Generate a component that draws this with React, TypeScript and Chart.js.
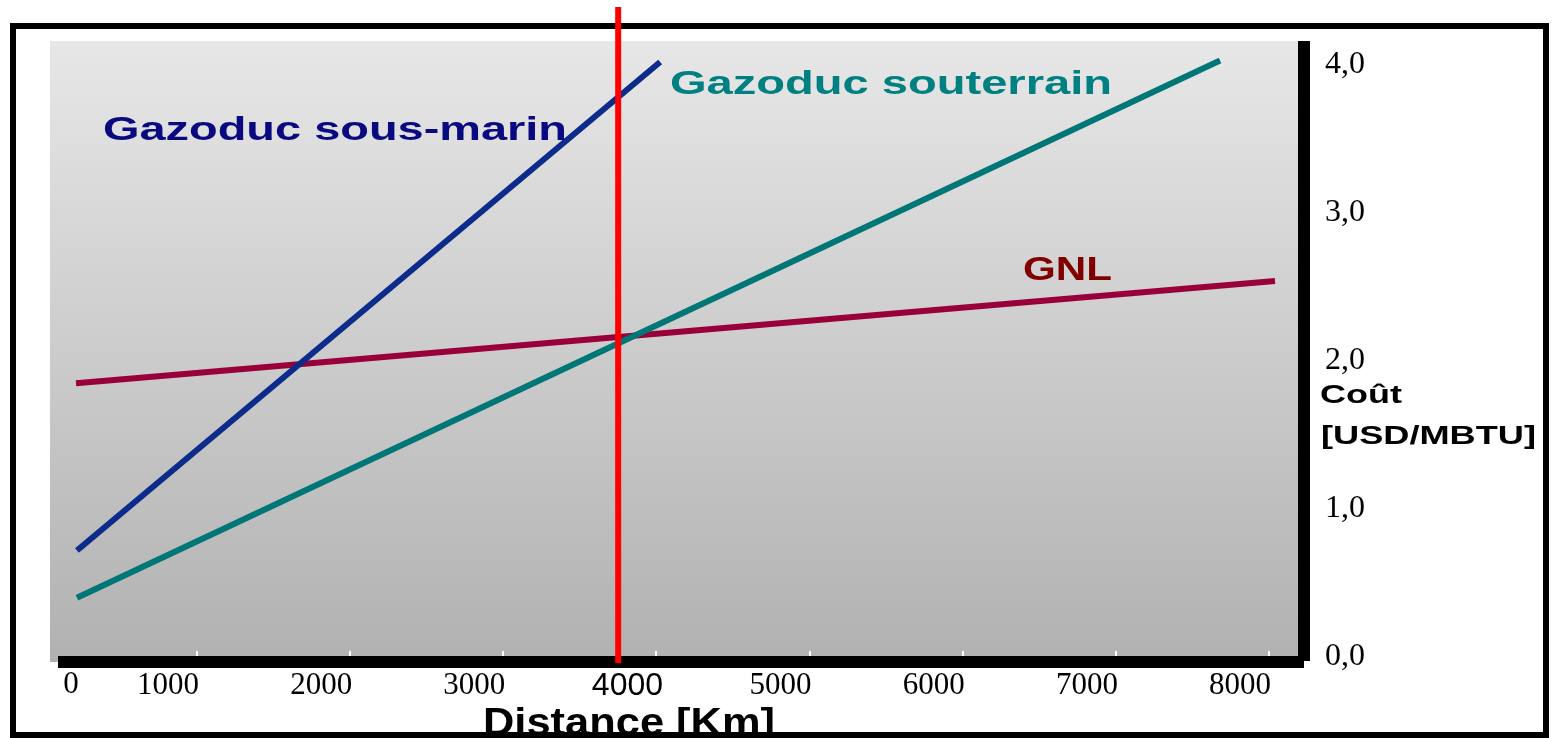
import React, { useEffect, useRef } from "react";
import { Chart, registerables } from "chart.js";

Chart.register(...registerables);

// ---- data ----
const xTickValues = [1000, 2000, 3000, 4000, 5000, 6000, 7000, 8000];
const xOriginLabel = "0";
const yTickValues = [0, 1, 2, 3, 4];

const sousMarinDistance = [216, 4024];
const sousMarinCost = [0.72, 4.02];
const souterrainDistance = [216, 7680];
const souterrainCost = [0.4, 4.03];
const gnlDistance = [210, 8039];
const gnlCost = [1.85, 2.54];

const crossoverDistance = 3750;

const seriesNames = ["Gazoduc sous-marin", "Gazoduc souterrain", "GNL"];
const xTitle = "Distance [Km]";
const yTitleLines = ["Coût", "[USD/MBTU]"];

const xMin = 40;
const xMax = 8189;
const yMin = 0;
const yMax = 4.162;

const toPoints = (xs: number[], ys: number[]) => xs.map((x, i) => ({ x, y: ys[i] }));

function drawStretched(
  ctx: CanvasRenderingContext2D,
  text: string,
  x: number,
  y: number,
  font: string,
  color: string,
  targetWidth: number,
  align: CanvasTextAlign
) {
  ctx.save();
  ctx.font = font;
  ctx.fillStyle = color;
  ctx.textBaseline = "alphabetic";
  ctx.textAlign = align;
  const w = ctx.measureText(text).width;
  const s = targetWidth / w;
  ctx.translate(x, y);
  ctx.scale(s, 1);
  ctx.fillText(text, 0, 0);
  ctx.restore();
}

const decorPlugin = {
  id: "decor",
  beforeDraw(chart: any) {
    const { ctx, chartArea } = chart;
    const g = ctx.createLinearGradient(0, chartArea.top, 0, chartArea.bottom + 5);
    g.addColorStop(0, "#e7e7e7");
    g.addColorStop(1, "#b1b1b1");
    ctx.save();
    ctx.fillStyle = g;
    ctx.fillRect(chartArea.left, chartArea.top, chartArea.right - chartArea.left, chartArea.bottom + 5 - chartArea.top);
    ctx.restore();
  },
  afterDraw(chart: any) {
    const { ctx, chartArea } = chart;
    const xs = chart.scales.x;
    ctx.save();
    // black axis bars
    ctx.fillStyle = "#000";
    ctx.fillRect(chartArea.right, chartArea.top, 12, chartArea.bottom + 4 - chartArea.top);
    ctx.fillRect(chartArea.left + 8, chartArea.bottom - 1, chartArea.right + 6 - chartArea.left - 8, 12);

    // "0" label at the origin
    ctx.font = "31px 'Liberation Serif'";
    ctx.textAlign = "center";
    ctx.textBaseline = "middle";
    ctx.fillStyle = "#000";
    ctx.fillText(xOriginLabel, chartArea.left + 21, chartArea.bottom + 28);
    ctx.restore();

    // series labels
    drawStretched(ctx, seriesNames[0], 103, 140, "bold 34px 'Liberation Sans'", "#0a0a80", 464, "left");
    drawStretched(ctx, seriesNames[1], 670, 94, "bold 34px 'Liberation Sans'", "#008080", 442, "left");
    drawStretched(ctx, seriesNames[2], 1023, 280, "bold 33px 'Liberation Sans'", "#800000", 89, "left");

    // axis titles
    drawStretched(ctx, yTitleLines[0], 1320, 403, "bold 25px 'Liberation Sans'", "#000", 82, "left");
    drawStretched(ctx, yTitleLines[1], 1321, 444, "bold 25px 'Liberation Sans'", "#000", 215, "left");
    drawStretched(ctx, xTitle, 629, 735, "bold 38px 'Liberation Sans'", "#000", 292, "center");

    // outer frame
    ctx.save();
    ctx.strokeStyle = "#000";
    ctx.lineWidth = 6;
    ctx.strokeRect(13, 26, 1533, 709);
    ctx.restore();

    // red crossover line
    const rx = xs.getPixelForValue(crossoverDistance);
    ctx.save();
    ctx.fillStyle = "#ff0000";
    ctx.fillRect(rx - 3, 7, 6, chartArea.bottom + 6 - 7);
    ctx.restore();
  },
};

export default function App() {
  const canvasRef = useRef<HTMLCanvasElement | null>(null);

  useEffect(() => {
    document.body.style.margin = "0";
    document.body.style.overflow = "hidden";
    const canvas = canvasRef.current;
    if (!canvas) return;
    Chart.defaults.font.family = "'Liberation Serif'";

    const chart = new Chart(canvas, {
      type: "line",
      data: {
        datasets: [
          {
            label: seriesNames[0],
            data: toPoints(sousMarinDistance, sousMarinCost),
            borderColor: "#0c2b8b",
            borderWidth: 6,
            pointRadius: 0,
            borderCapStyle: "butt",
            clip: false,
          },
          {
            label: seriesNames[1],
            data: toPoints(souterrainDistance, souterrainCost),
            borderColor: "#007676",
            borderWidth: 6,
            pointRadius: 0,
            borderCapStyle: "butt",
            clip: false,
          },
          {
            label: seriesNames[2],
            data: toPoints(gnlDistance, gnlCost),
            borderColor: "#99003a",
            borderWidth: 6,
            pointRadius: 0,
            borderCapStyle: "butt",
            clip: false,
          },
        ],
      } as any,
      options: {
        responsive: false,
        animation: false,
        devicePixelRatio: 1,
        layout: { padding: { left: 50, top: 41, right: 0, bottom: 0 } },
        plugins: {
          legend: { display: false },
          tooltip: { enabled: false },
        },
        scales: {
          x: {
            type: "linear",
            position: "bottom",
            min: xMin,
            max: xMax,
            afterFit: (s: any) => {
              s.height = 81;
              s.paddingLeft = 0;
              s.paddingRight = 0;
            },
            afterBuildTicks: (s: any) => {
              s.ticks = xTickValues.map((v) => ({ value: v }));
            },
            border: { display: false },
            grid: {
              drawOnChartArea: false,
              drawTicks: true,
              tickLength: -6,
              color: "#ffffff",
              lineWidth: 2,
            },
            ticks: {
              labelOffset: -29,
              padding: 16,
              color: "#000",
              maxRotation: 0,
              autoSkip: false,
              font: (c: any) =>
                c.tick && c.tick.value === 4000
                  ? { family: "'Liberation Sans'", size: 32 }
                  : { family: "'Liberation Serif'", size: 31 },
              callback: (v: any) => String(v),
            },
          },
          y: {
            type: "linear",
            position: "right",
            min: yMin,
            max: yMax,
            afterFit: (s: any) => {
              s.width = 254;
              s.paddingTop = 0;
              s.paddingBottom = 0;
            },
            afterBuildTicks: (s: any) => {
              s.ticks = yTickValues.map((v) => ({ value: v }));
            },
            border: { display: false },
            grid: { display: false, drawTicks: false },
            ticks: {
              padding: 27,
              color: "#000",
              font: { family: "'Liberation Serif'", size: 32 },
              callback: (v: any) => Number(v).toFixed(1).replace(".", ","),
            },
          },
        },
      } as any,
      plugins: [decorPlugin],
    });
    return () => chart.destroy();
  }, []);

  return (
    <div style={{ width: 1552, height: 738 }}>
      <canvas ref={canvasRef} width={1552} height={738} style={{ display: "block" }} />
    </div>
  );
}
